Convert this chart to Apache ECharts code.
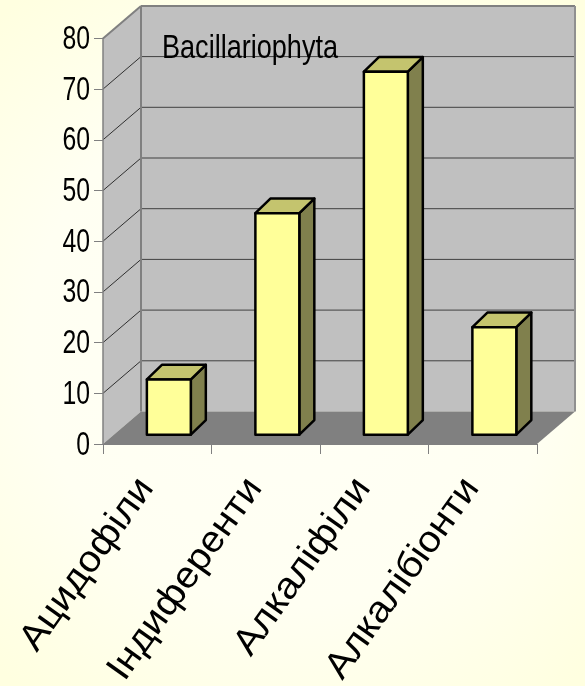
<!DOCTYPE html>
<html><head><meta charset="utf-8">
<style>html,body{margin:0;padding:0;background:#fffff0}#c{width:585px;height:686px}</style>
<script src="https://cdn.jsdelivr.net/npm/echarts@6/dist/echarts.min.js"></script>
</head><body><div id="c"></div>
<script>
const categories = ['Ацидофіли', 'Індиференти', 'Алкаліфіли', 'Алкалібіонти'];
const values = [10.9, 43.7, 71.6, 21.2];
const yTicks = [0, 10, 20, 30, 40, 50, 60, 70, 80];
const chartTitle = 'Bacillariophyta';

const WALL_DX = 38, WALL_DY = 32.5;
const GAP_DX = 11.6, GAP_DY = 9.3;
const BAR_DX = 15, BAR_DY = 14.6;
const BAR_RATIO = 0.405;
const SQUEEZE = 0.75;
const FONT = '"Liberation Sans", Arial, sans-serif';

const chart = echarts.init(document.getElementById('c'));

function poly(points, fill, stroke, lw) {
  return { type: 'polygon', shape: { points }, silent: true,
    style: { fill: fill, stroke: stroke || null, lineWidth: lw || 0, lineJoin: 'round' } };
}
function seg(a, b, color, lw) {
  return { type: 'line', shape: { x1: a[0], y1: a[1], x2: b[0], y2: b[1] }, silent: true,
    style: { stroke: color, lineWidth: lw, fill: null } };
}
const back = p => [p[0] + WALL_DX, p[1] - WALL_DY];

function renderWalls(params, api) {
  const n = categories.length;
  const band = api.size([1, 0])[0];
  const leftX = api.coord([0, 0])[0] - band / 2, rightX = leftX + band * n;
  const at = (x, v) => [x, api.coord([0, v])[1]];
  const fl0 = at(leftX, 0), fr0 = at(rightX, 0), fl1 = at(leftX, 80), fr1 = at(rightX, 80);
  const bl0 = back(fl0), br0 = back(fr0), bl1 = back(fl1), br1 = back(fr1);
  const children = [
    poly([fl0, fl1, bl1, bl0], '#C0C0C0'),
    poly([bl0, bl1, br1, br0], '#C0C0C0'),
    poly([fl0, bl0, br0, fr0], '#808080')
  ];
  yTicks.slice(1, -1).forEach(v => {
    const a = at(leftX, v), b = back(a), c = back(at(rightX, v));
    children.push(seg(a, b, '#303030', 1), seg(b, c, '#404040', 1));
  });
  children.push(
    seg(fl1, bl1, '#808080', 2), seg(bl1, br1, '#808080', 2),
    seg(bl1, bl0, '#808080', 2), seg(br1, br0, '#909090', 2)
  );
  return { type: 'group', children };
}

function renderBar(params, api) {
  const c0 = api.coord([api.value(0), 0]);
  const c1 = api.coord([api.value(0), api.value(1)]);
  const w = api.size([1, 0])[0] * BAR_RATIO;
  const x0 = c0[0] + GAP_DX - w / 2, x1 = x0 + w;
  const yb = c0[1] - GAP_DY, yt = c1[1] - GAP_DY;
  const border = '#000000', lw = 2.5;
  return { type: 'group', children: [
    poly([[x1, yb], [x1, yt], [x1 + BAR_DX, yt - BAR_DY], [x1 + BAR_DX, yb - BAR_DY]], '#80804D', border, lw),
    poly([[x0, yt], [x0 + BAR_DX, yt - BAR_DY], [x1 + BAR_DX, yt - BAR_DY], [x1, yt]], '#C4C46E', border, lw),
    poly([[x0, yb], [x0, yt], [x1, yt], [x1, yb]], '#FFFF99', border, lw)
  ] };
}

function renderYLabel(params, api) {
  const p = api.coord([0, api.value(1)]);
  const band = api.size([1, 0])[0];
  return { type: 'group', x: p[0] - band / 2 - 13, y: p[1] + 1.5, scaleX: SQUEEZE, children: [
    { type: 'text', silent: true, style: { text: String(api.value(1)), align: 'right', verticalAlign: 'middle',
      fill: '#000', font: '33px ' + FONT } }
  ] };
}

function renderXLabel(params, api) {
  const p = api.coord([api.value(0), 0]);
  return { type: 'group', x: p[0] - 11, y: p[1] + 38, rotation: 54.5 * Math.PI / 180, scaleX: 1.07, children: [
    { type: 'text', silent: true, style: { text: categories[params.dataIndex],
      align: 'right', verticalAlign: 'middle', fill: '#000', font: '37px ' + FONT } }
  ] };
}

function renderTitle(params, api) {
  const p = api.coord([0, 80]);
  const band = api.size([1, 0])[0];
  return { type: 'group', x: p[0] - band / 2 + 59, y: p[1] + 11, scaleX: 0.82, children: [
    { type: 'text', silent: true, style: { text: chartTitle, align: 'left', verticalAlign: 'middle',
      fill: '#000', font: '33px ' + FONT } }
  ] };
}

chart.setOption({
  animation: false,
  backgroundColor: { type: 'radial', x: 0.5, y: 0.5, r: 0.75,
    colorStops: [{ offset: 0, color: '#FFFFF6' }, { offset: 0.6, color: '#FFFFF2' }, { offset: 1, color: '#FFFFE0' }] },
  grid: { left: 103, top: 38.4, width: 434, height: 405.6 },
  xAxis: { type: 'category', data: categories, z: 5,
    axisLine: { lineStyle: { color: '#808080', width: 1 } },
    axisTick: { show: true, length: 10, lineStyle: { color: '#808080', width: 1 } },
    axisLabel: { show: false } },
  yAxis: { type: 'value', min: 0, max: 80, interval: 10, z: 5,
    splitLine: { show: false },
    axisLine: { show: true, lineStyle: { color: '#808080', width: 1.5 } },
    axisTick: { show: true, length: 9, lineStyle: { color: '#808080', width: 1 } },
    axisLabel: { show: false } },
  series: [
    { type: 'custom', z: 1, silent: true, clip: false, data: [[0, 0]], renderItem: renderWalls, encode: { x: 0, y: 1 } },
    { type: 'custom', z: 2, silent: true, data: values.map((v, i) => [i, v]), renderItem: renderBar, encode: { x: 0, y: 1 } },
    { type: 'custom', z: 6, silent: true, data: yTicks.map(v => [0, v]), renderItem: renderYLabel, encode: { x: 0, y: 1 } },
    { type: 'custom', z: 6, silent: true, data: categories.map((c, i) => [i, 0]), renderItem: renderXLabel, encode: { x: 0, y: 1 } },
    { type: 'custom', z: 6, silent: true, data: [[0, 80]], renderItem: renderTitle, encode: { x: 0, y: 1 } }
  ]
});
</script></body></html>
